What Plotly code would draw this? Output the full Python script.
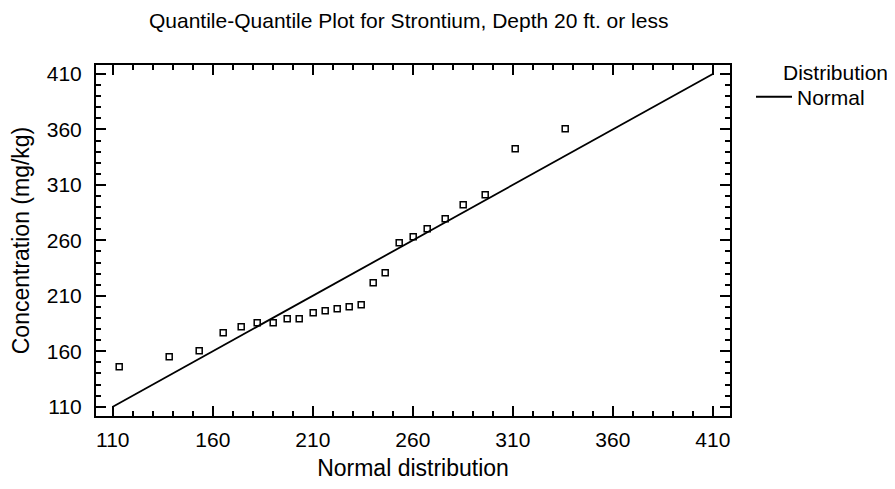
import plotly.graph_objects as go

# Normal quantiles (x) and observed concentrations (y), mg/kg
normal_quantiles = [113.2, 138.2, 153.2, 165.2, 174.2, 182.2, 190.2, 197.2, 203.2, 210.2,
                    216.2, 222.2, 228.2, 234.2, 240.2, 246.2, 253.2, 260.2, 267.2, 276.2,
                    285.2, 296.2, 311.2, 336.2]
concentration = [146.1, 155.1, 160.5, 176.7, 182.1, 185.7, 185.7, 189.4, 189.4, 194.8,
                 196.6, 198.4, 200.2, 202.0, 221.8, 230.8, 257.9, 263.3, 270.5, 279.5,
                 292.1, 301.2, 342.6, 360.7]
ref_line_x = [110, 410]
ref_line_y = [110, 410]
tick_vals = [110, 160, 210, 260, 310, 360, 410]

FONT = "Liberation Sans, Arial, sans-serif"

fig = go.Figure()
fig.add_trace(go.Scatter(
    x=normal_quantiles, y=concentration, mode="markers",
    marker=dict(symbol="square-open", size=6, color="black", line=dict(width=1.5, color="black")),
    showlegend=False, hoverinfo="x+y"))
fig.add_trace(go.Scatter(
    x=ref_line_x, y=ref_line_y, mode="lines", name="Normal",
    line=dict(color="black", width=1.8)))

axis_common = dict(
    showline=True, linecolor="black", linewidth=2, mirror="allticks",
    ticks="inside", ticklen=10, tickwidth=2, tickcolor="black",
    tickvals=tick_vals, showgrid=False, zeroline=False,
    tickfont=dict(family=FONT, size=21, color="black"),
    minor=dict(ticks="inside", ticklen=5, tickwidth=2, tickcolor="black", dtick=10, tick0=110),
)

# page body has an 8px margin, so the figure is sized/offset to compensate
fig.update_layout(
    width=887, height=481,
    margin=dict(l=88, r=165, t=57, b=73),
    paper_bgcolor="white", plot_bgcolor="white",
    font=dict(family=FONT, color="black"),
    xaxis=dict(range=[101.6, 418.6], ticklabelstandoff=4,
               title=dict(text="Normal distribution", font=dict(family=FONT, size=23), standoff=10),
               **axis_common),
    yaxis=dict(range=[101.6, 418.1], ticklabelstandoff=8,
               title=dict(text="Concentration (mg/kg)", font=dict(family=FONT, size=23), standoff=12),
               **axis_common),
    showlegend=True,
    legend=dict(x=1 + 21 / 634, xanchor="left", y=0.967, yanchor="top",
                font=dict(family=FONT, size=21, color="black"),
                bgcolor="rgba(0,0,0,0)", itemwidth=36),
    annotations=[
        dict(text="Quantile-Quantile Plot for Strontium, Depth 20 ft. or less",
             xref="paper", yref="paper", x=(408 - 96) / 634, y=1, yshift=45,
             xanchor="center", yanchor="middle", showarrow=False,
             font=dict(family=FONT, size=21, color="black")),
        dict(text="Distribution", xref="paper", yref="paper",
             x=1 + (890 - 730) / 634, y=1, yshift=-7, xanchor="right", yanchor="middle",
             showarrow=False, font=dict(family=FONT, size=21, color="black")),
    ],
)

fig.write_html("out.html")
